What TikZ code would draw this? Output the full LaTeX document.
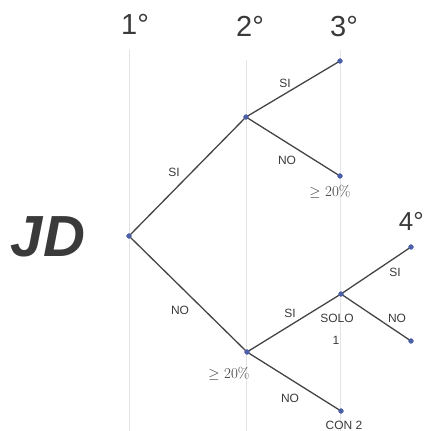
\documentclass[tikz,border=0pt]{standalone}
\usepackage{fontspec}
\setsansfont{Liberation Sans}
\definecolor{linegray}{HTML}{444444}
\definecolor{dotblue}{HTML}{4A5FA8}
\definecolor{gridgray}{HTML}{E4E4E4}
\definecolor{textgray}{HTML}{3A3A3A}
\tikzset{
  branch/.style={draw=linegray, line width=1.3pt},
  guide/.style={draw=gridgray, line width=0.9pt},
  lab/.style={text=textgray, font=\sffamily\fontsize{12}{13}\selectfont, inner sep=0pt},
  pct/.style={text=textgray, font=\fontsize{15}{16}\selectfont, inner sep=0pt},
  head/.style={text=textgray, font=\sffamily\fontsize{29}{30}\selectfont, inner sep=0pt},
}
\begin{document}
\begin{tikzpicture}[x=1pt, y=-1pt]
        \useasboundingbox (0,0) rectangle (424,431);
        % Faint vertical guides under each step
        \coordinate (g1t) at (129, 50);  \coordinate (g1b) at (129, 431);
        \coordinate (g2t) at (246, 60);  \coordinate (g2b) at (246, 431);
        \coordinate (g3t) at (340, 50);  \coordinate (g3b) at (340, 431);
        \draw[guide] (g1t) -- (g1b);
        \draw[guide] (g2t) -- (g2b);
        \draw[guide] (g3t) -- (g3b);

        % Step headings
        \node[head, anchor=base] (h1) at (135, 34) {1°};
        \node[head, anchor=base] (h2) at (250, 36) {2°};
        \node[head, anchor=base] (h3) at (344, 36) {3°};
        \node[head, anchor=base east, font=\sffamily\fontsize{26}{28}\selectfont] (h4) at (424, 230) {4°};
        \node[text=textgray, inner sep=0pt, anchor=base,
              font=\sffamily\bfseries\itshape\fontsize{58}{60}\selectfont] (jd) at (48, 256) {JD};

        % Branch points
        \coordinate (root) at (129, 236);
        \coordinate (up) at (246, 117);
        \coordinate (down) at (247, 352);
        \coordinate (upsi) at (340, 61);
        \coordinate (upno) at (340, 176);
        \coordinate (solo) at (341, 294);
        \coordinate (con) at (341, 411);
        \coordinate (fsi) at (411, 247);
        \coordinate (fno) at (411, 341);

        % Branches
        \draw[branch] (root) -- (up);
        \draw[branch] (root) -- (down);
        \draw[branch] (up) -- (upsi);
        \draw[branch] (up) -- (upno);
        \draw[branch] (down) -- (solo);
        \draw[branch] (down) -- (con);
        \draw[branch] (solo) -- (fsi);
        \draw[branch] (solo) -- (fno);

        % Dots
        \foreach \p in {root, up, down, upsi, upno, solo, con, fsi, fno}
            \filldraw[dotblue] (\p) circle (2.4pt);

        % Labels
        \node[lab] (l1) at (174, 172) {SI};
        \node[lab] (l2) at (180, 310) {NO};
        \node[lab] (l3) at (285, 83) {SI};
        \node[lab] (l4) at (287, 160) {NO};
        \node[pct] (l5) at (330, 192) {$\geq$ 20\%};
        \node[lab] (l6) at (290, 313) {SI};
        \node[lab] (l7) at (337, 318) {SOLO};
        \node[lab] (l8) at (336, 340) {1};
        \node[lab] (l9) at (395, 272) {SI};
        \node[lab] (l10) at (397, 318) {NO};
        \node[pct] (l11) at (229, 374) {$\geq$ 20\%};
        \node[lab] (l12) at (290, 398) {NO};
        \node[lab] (l13) at (344, 425) {CON 2};
    \end{tikzpicture}
\end{document}
